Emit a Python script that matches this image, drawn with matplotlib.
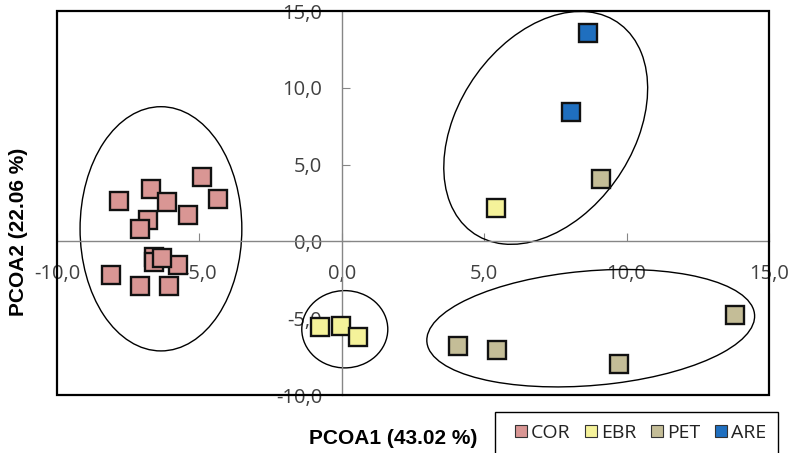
import matplotlib
matplotlib.use('Agg')
import matplotlib.pyplot as plt
from matplotlib.patches import Ellipse, Rectangle
from matplotlib.lines import Line2D
from matplotlib.ticker import FuncFormatter

# Dades (llegides del gràfic)
grups = ['COR', 'EBR', 'PET', 'ARE']
colors = ['#D99694', '#F5F29A', '#C4BD97', '#1F6FBF']

cor_x = [-7.82, -6.71, -4.90, -4.36, -6.15, -5.39, -6.82, -7.09,
         -8.11, -7.09, -6.07, -5.74, -6.60, -6.60, -6.32]
cor_y = [2.66, 3.44, 4.18, 2.76, 2.55, 1.75, 1.42, 0.80,
         -2.18, -2.90, -2.88, -1.52, -1.01, -1.31, -1.08]
ebr_x = [5.40, -0.78, -0.04, 0.57]
ebr_y = [2.16, -5.56, -5.49, -6.24]
pet_x = [9.09, 4.07, 5.44, 9.72, 13.80]
pet_y = [4.05, -6.80, -7.06, -7.97, -4.77]
are_x = [8.63, 8.04]
are_y = [13.60, 8.45]

# El·lipses: centre, amplada, alçada, angle (unitats de dades)
el_cx = [-6.35, 0.105, 7.16, 8.74]
el_cy = [0.82, -5.72, 7.39, -5.65]
el_w = [5.68, 3.02, 15.4, 11.69]
el_h = [15.9, 5.03, 6.63, 7.37]
el_ang = [0, 0, 78.8, 13.0]

ticks = [-10, -5, 0, 5, 10, 15]

plt.rcParams['font.family'] = ['Open Sans', 'DejaVu Sans']

fig = plt.figure(figsize=(7.9, 4.53), dpi=100)
ax = fig.add_axes([57 / 790, 58 / 453, 712 / 790, 384 / 453])

for i in range(len(el_cx)):
    e = Ellipse((el_cx[i], el_cy[i]), el_w[i], el_h[i], angle=el_ang[i],
                fill=False, edgecolor='black', linewidth=1.0, zorder=2)
    ax.add_patch(e)

series = [(cor_x, cor_y), (ebr_x, ebr_y), (pet_x, pet_y), (are_x, are_y)]
for (xs, ys), c in zip(series, colors):
    ax.plot(xs, ys, linestyle='none', marker='s', markersize=12.5,
            markerfacecolor=c, markeredgecolor='#111111',
            markeredgewidth=1.7, zorder=3)

ax.set_xlim(-10, 15)
ax.set_ylim(-10, 15)
ax.set_xticks(ticks)
ax.set_yticks(ticks)
fmt = FuncFormatter(lambda v, p: ('%.1f' % v).replace('.', ','))
ax.xaxis.set_major_formatter(fmt)
ax.yaxis.set_major_formatter(fmt)

# Eixos que passen pel zero
ax.spines['left'].set_position(('data', 0))
ax.spines['bottom'].set_position(('data', 0))
for s in ['left', 'bottom']:
    ax.spines[s].set_color('#868686')
    ax.spines[s].set_linewidth(1.0)
ax.spines['top'].set_visible(False)
ax.spines['right'].set_visible(False)
ax.tick_params(axis='x', direction='in', length=6, color='#868686',
               pad=16, labelsize=14.5, labelcolor='#404040')
ax.tick_params(axis='y', direction='in', length=6, color='#868686',
               pad=14, labelsize=14.5, labelcolor='#404040')

# Marc de l'àrea de dibuix
ax.add_patch(Rectangle((0, 0), 1, 1, transform=ax.transAxes, fill=False,
                       edgecolor='black', linewidth=1.6, clip_on=False,
                       zorder=4))

ax.set_xlabel('PCOA1 (43.02 %)', family='Liberation Sans',
              fontweight='bold', fontsize=15, va='center', ha='center')
ax.xaxis.set_label_coords((393 - 57) / 712, (395 - 438) / 384)
ax.set_ylabel('PCOA2 (22.06 %)', family='Liberation Sans',
              fontweight='bold', fontsize=15, va='center', ha='center')
ax.yaxis.set_label_coords((19 - 57) / 712, (395 - 232) / 384)

# Llegenda (el marc continua per sota de la imatge)
handles = [Line2D([], [], linestyle='none', marker='s', markersize=9,
                  markerfacecolor=c, markeredgecolor='#333333',
                  markeredgewidth=0.8) for c in colors]
leg = fig.legend(handles, grups, loc='center left',
                 bbox_to_anchor=(513 / 790, 1 - 433 / 453), ncol=4,
                 fontsize=14, frameon=False,
                 borderaxespad=0, borderpad=0, handlelength=0.8,
                 handletextpad=0.13, columnspacing=0.64)
for t in leg.get_texts():
    t.set_color('#222222')
fig.add_artist(Rectangle((495 / 790, -0.05), (778 - 495) / 790,
                         1 - 412 / 453 + 0.05, transform=fig.transFigure,
                         fill=False, edgecolor='black', linewidth=1.0))

fig.savefig('out.png', dpi=100)
